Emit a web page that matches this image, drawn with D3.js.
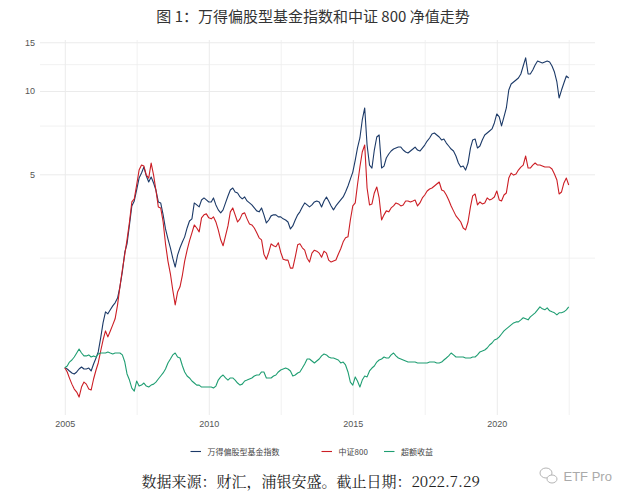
<!DOCTYPE html>
<html><head><meta charset="utf-8">
<script src="https://cdn.jsdelivr.net/npm/d3@7/dist/d3.min.js"></script>
<style>body{margin:0;background:#fff}svg{display:block}</style>
</head><body>
<svg id="c" width="640" height="502"></svg>
<script>
// ---- data ----
const startMonth = "2005-01";
const endMonth = "2022-07";
const seriesNames = ["万得偏股型基金指数", "中证800", "超额收益"];
const seriesColors = ["#1c3a68", "#cc1e25", "#1f9e72"];
const yTicks = [5, 10, 15];
const yMinorTicks = [2.5, 7.5, 12.5];
const xTickYears = [2005, 2010, 2015, 2020];
const xMinorYears = [2007.5, 2012.5, 2017.5, 2022.5];

const fundIndex = [
1.00,0.990,0.974,0.958,0.950,0.966,0.990,1.007,0.990,0.990,0.998,0.974,
1.032,1.085,1.141,1.282,1.453,1.593,1.567,1.620,1.674,1.717,1.787,1.962,
2.223,2.616,2.805,3.281,3.844,4.007,4.390,4.847,5.053,5.312,4.928,4.691,
4.887,4.653,4.390,3.973,3.941,3.569,3.174,2.923,2.714,2.489,2.312,2.552,
2.714,2.852,2.972,3.200,3.392,3.452,3.941,3.876,3.812,4.040,4.108,4.040,
3.973,3.973,4.108,3.876,3.720,3.628,3.720,3.941,4.177,4.390,4.463,4.318,
4.282,4.142,4.074,4.142,4.007,3.941,3.876,3.780,3.689,3.659,3.780,3.569,
3.336,3.420,3.539,3.569,3.569,3.510,3.510,3.452,3.420,3.364,3.174,3.254,
3.420,3.569,3.659,3.812,3.941,3.876,3.812,3.876,3.973,4.007,3.973,3.812,
4.007,4.142,4.007,3.844,3.720,3.844,3.941,4.040,4.142,4.318,4.538,4.807,
5.094,5.630,6.222,6.765,7.860,8.683,6.379,5.401,5.268,6.120,6.821,6.936,
5.268,5.356,5.727,5.920,6.069,6.171,6.222,6.274,6.274,6.120,6.019,5.969,
6.069,6.171,6.274,6.120,6.069,6.222,6.379,6.595,6.765,6.994,7.052,6.936,
6.821,6.650,6.709,6.486,6.327,6.171,6.069,5.823,5.492,5.312,5.356,5.180,
5.492,6.222,6.650,6.709,6.222,6.327,6.650,6.936,7.052,7.170,7.294,7.667,
8.261,8.057,7.478,8.057,8.683,10.08,10.60,10.78,10.96,11.14,11.52,12.31,
13.17,11.52,11.52,11.91,12.41,12.83,12.73,12.62,12.73,12.83,12.73,12.31,
11.71,10.78,9.436,10.08,10.69,11.33,11.14
];
const csi800 = [
1.00,0.966,0.918,0.873,0.838,0.817,0.784,0.852,0.888,0.873,0.838,0.831,
0.911,0.982,1.041,1.150,1.260,1.359,1.293,1.359,1.429,1.503,1.688,1.962,
2.260,2.573,2.900,3.364,3.973,4.074,4.576,5.180,5.401,5.356,4.969,4.847,
5.492,4.969,4.390,3.812,3.780,3.364,2.805,2.430,2.186,1.910,1.688,1.878,
1.962,2.168,2.430,2.660,2.876,3.073,3.281,3.200,3.098,3.481,3.569,3.598,
3.481,3.452,3.510,3.364,3.150,2.900,2.759,2.997,3.254,3.659,3.780,3.569,
3.364,3.452,3.598,3.628,3.452,3.308,3.281,3.200,3.073,2.948,2.900,2.573,
2.468,2.616,2.805,2.759,2.736,2.829,2.616,2.468,2.450,2.450,2.292,2.292,
2.510,2.782,2.805,2.714,2.660,2.489,2.410,2.595,2.660,2.638,2.595,2.510,
2.638,2.595,2.450,2.410,2.430,2.450,2.573,2.691,2.852,2.948,2.972,3.420,
3.844,3.941,4.576,5.312,6.019,6.379,4.463,3.876,3.908,4.282,4.501,4.108,
3.420,3.569,3.689,3.659,3.780,3.844,3.941,3.908,3.844,3.876,4.007,4.007,
3.973,4.007,4.040,3.844,3.941,4.108,4.211,4.354,4.427,4.463,4.538,4.614,
4.691,4.390,4.354,4.211,4.040,3.844,3.689,3.539,3.452,3.364,3.200,3.150,
3.364,3.812,4.177,4.246,3.876,3.973,3.908,3.941,4.108,4.040,4.074,4.142,
4.354,4.040,4.007,4.211,4.282,4.847,5.053,4.969,5.011,5.180,5.312,5.401,
5.823,5.268,5.268,5.401,5.492,5.401,5.401,5.356,5.312,5.312,5.312,5.225,
5.011,4.770,4.246,4.318,4.653,4.847,4.576
];
const excessReturn = [
1.000,1.015,1.049,1.067,1.094,1.131,1.169,1.131,1.104,1.104,1.113,1.094,
1.104,1.094,1.122,1.131,1.131,1.131,1.141,1.131,1.122,1.131,1.131,1.131,
1.113,1.049,0.950,0.903,0.845,0.824,0.896,0.859,0.866,0.881,0.859,0.852,
0.866,0.873,0.888,0.911,0.934,0.958,0.990,1.041,1.076,1.113,1.131,1.094,
1.085,1.015,0.966,0.934,0.919,0.896,0.881,0.866,0.866,0.852,0.852,0.852,
0.852,0.852,0.845,0.859,0.903,0.927,0.942,0.919,0.903,0.919,0.919,0.903,
0.881,0.866,0.873,0.896,0.903,0.911,0.919,0.934,0.942,0.942,0.966,0.966,
0.919,0.919,0.919,0.934,0.942,0.966,0.982,0.990,0.998,0.990,0.974,0.934,
0.942,0.958,0.966,0.998,1.032,1.076,1.076,1.058,1.041,1.058,1.076,1.104,
1.122,1.113,1.094,1.085,1.085,1.076,1.067,1.041,1.049,1.024,0.966,0.888,
0.866,0.927,0.896,0.852,0.903,0.934,0.927,0.974,0.998,1.015,1.049,1.067,
1.076,1.094,1.085,1.085,1.113,1.131,1.104,1.085,1.076,1.067,1.058,1.049,
1.049,1.049,1.049,1.041,1.041,1.041,1.041,1.041,1.049,1.049,1.049,1.041,
1.041,1.049,1.067,1.085,1.104,1.131,1.113,1.094,1.094,1.094,1.094,1.085,
1.085,1.085,1.094,1.094,1.113,1.141,1.150,1.160,1.179,1.209,1.229,1.260,
1.271,1.293,1.325,1.359,1.383,1.406,1.429,1.453,1.465,1.465,1.490,1.516,
1.503,1.490,1.528,1.554,1.580,1.620,1.661,1.633,1.620,1.647,1.607,1.593,
1.580,1.554,1.580,1.580,1.593,1.620,1.661
];

// ---- chart ----
const parseM = d3.timeParse("%Y-%m");
const dates = d3.timeMonth.range(parseM(startMonth), d3.timeMonth.offset(parseM(endMonth), 1));
const allSeries = [fundIndex, csi800, excessReturn];

const svg = d3.select("#c");
const panel = {left: 40, right: 595, top: 40, bottom: 415};

const yearDate = y => { const yr = Math.floor(y); return new Date(yr, Math.round((y - yr) * 12), 1); };
const x = d3.scaleTime().domain([new Date(2005,0,1), new Date(2020,0,1)]).range([64.8, 496.8]);
const y = d3.scaleLog().domain([1, 10]).range([367.8, 91]);

const grid = svg.append("g");
// horizontal grid
grid.append("g").attr("transform", `translate(${panel.left},0)`)
  .call(d3.axisLeft(y).tickValues(yMinorTicks).tickSize(-(panel.right - panel.left)).tickFormat(""))
  .call(g => g.select(".domain").remove())
  .call(g => g.selectAll("line").attr("stroke", "#eeeeee").attr("stroke-width", 0.8));
grid.append("g").attr("transform", `translate(${panel.left},0)`)
  .call(d3.axisLeft(y).tickValues(yTicks).tickSize(-(panel.right - panel.left)).tickFormat(""))
  .call(g => g.select(".domain").remove())
  .call(g => g.selectAll("line").attr("stroke", "#ebebeb").attr("stroke-width", 1));
// vertical grid
grid.append("g").attr("transform", `translate(0,${panel.bottom})`)
  .call(d3.axisBottom(x).tickValues(xMinorYears.map(yearDate)).tickSize(-(panel.bottom - panel.top)).tickFormat(""))
  .call(g => g.select(".domain").remove())
  .call(g => g.selectAll("line").attr("stroke", "#eeeeee").attr("stroke-width", 0.8));
grid.append("g").attr("transform", `translate(0,${panel.bottom})`)
  .call(d3.axisBottom(x).tickValues(xTickYears.map(yearDate)).tickSize(-(panel.bottom - panel.top)).tickFormat(""))
  .call(g => g.select(".domain").remove())
  .call(g => g.selectAll("line").attr("stroke", "#ebebeb").attr("stroke-width", 1));

// axis labels
svg.append("g").attr("transform", `translate(${panel.left - 3},0)`)
  .call(d3.axisLeft(y).tickValues(yTicks).tickSize(0).tickPadding(2).tickFormat(d3.format("d")))
  .call(g => g.select(".domain").remove())
  .call(g => g.selectAll("text").attr("fill", "#555").attr("font-size", 9).attr("font-family", "Liberation Sans, Arial, sans-serif"));
svg.append("g").attr("transform", `translate(0,${panel.bottom + 4})`)
  .call(d3.axisBottom(x).tickValues(xTickYears.map(yearDate)).tickSize(0).tickPadding(2).tickFormat(d3.timeFormat("%Y")))
  .call(g => g.select(".domain").remove())
  .call(g => g.selectAll("text").attr("fill", "#555").attr("font-size", 9).attr("font-family", "Liberation Sans, Arial, sans-serif"));

// lines
const line = d3.line().x((d, i) => x(dates[i])).y(d => y(d));
allSeries.forEach((s, k) => {
  svg.append("path").datum(s).attr("d", line)
    .attr("fill", "none").attr("stroke", seriesColors[k]).attr("stroke-width", 1.1)
    .attr("stroke-linejoin", "round");
});

// title
svg.append("text").attr("x", 313).attr("y", 22).attr("text-anchor", "middle")
  .attr("font-family", "Noto Sans CJK SC, sans-serif").attr("font-size", 15).attr("fill", "#333")
  .text("图 1：万得偏股型基金指数和中证 800 净值走势");

// legend
const legendX = [190.5, 321.5, 384];
const leg = svg.append("g").attr("font-family", "Noto Sans CJK SC, sans-serif").attr("font-size", 8).attr("fill", "#444");
seriesNames.forEach((n, k) => {
  leg.append("line").attr("x1", legendX[k]).attr("x2", legendX[k] + 10.5).attr("y1", 451.5).attr("y2", 451.5)
    .attr("stroke", seriesColors[k]).attr("stroke-width", 1.1);
  leg.append("text").attr("x", legendX[k] + 17).attr("y", 454.5).text(n);
});

// footer
svg.append("text").attr("x", 141.5).attr("y", 487)
  .attr("font-family", "Noto Serif CJK SC, Noto Sans CJK SC, serif").attr("font-size", 15).attr("fill", "#222")
  .text("数据来源：财汇，浦银安盛。截止日期：2022.7.29");

// watermark
const wm = svg.append("g").attr("stroke", "#b5b5b5").attr("fill", "none").attr("stroke-width", 1);
wm.append("ellipse").attr("cx", 546).attr("cy", 473).attr("rx", 6).attr("ry", 5);
wm.append("ellipse").attr("cx", 552).attr("cy", 479).attr("rx", 5).attr("ry", 4).attr("fill", "#fff");
svg.append("text").attr("x", 563.5).attr("y", 480.5)
  .attr("font-family", "Liberation Sans, Arial, sans-serif").attr("font-size", 13).attr("fill", "#aaa")
  .text("ETF Pro");
</script>
</body></html>
